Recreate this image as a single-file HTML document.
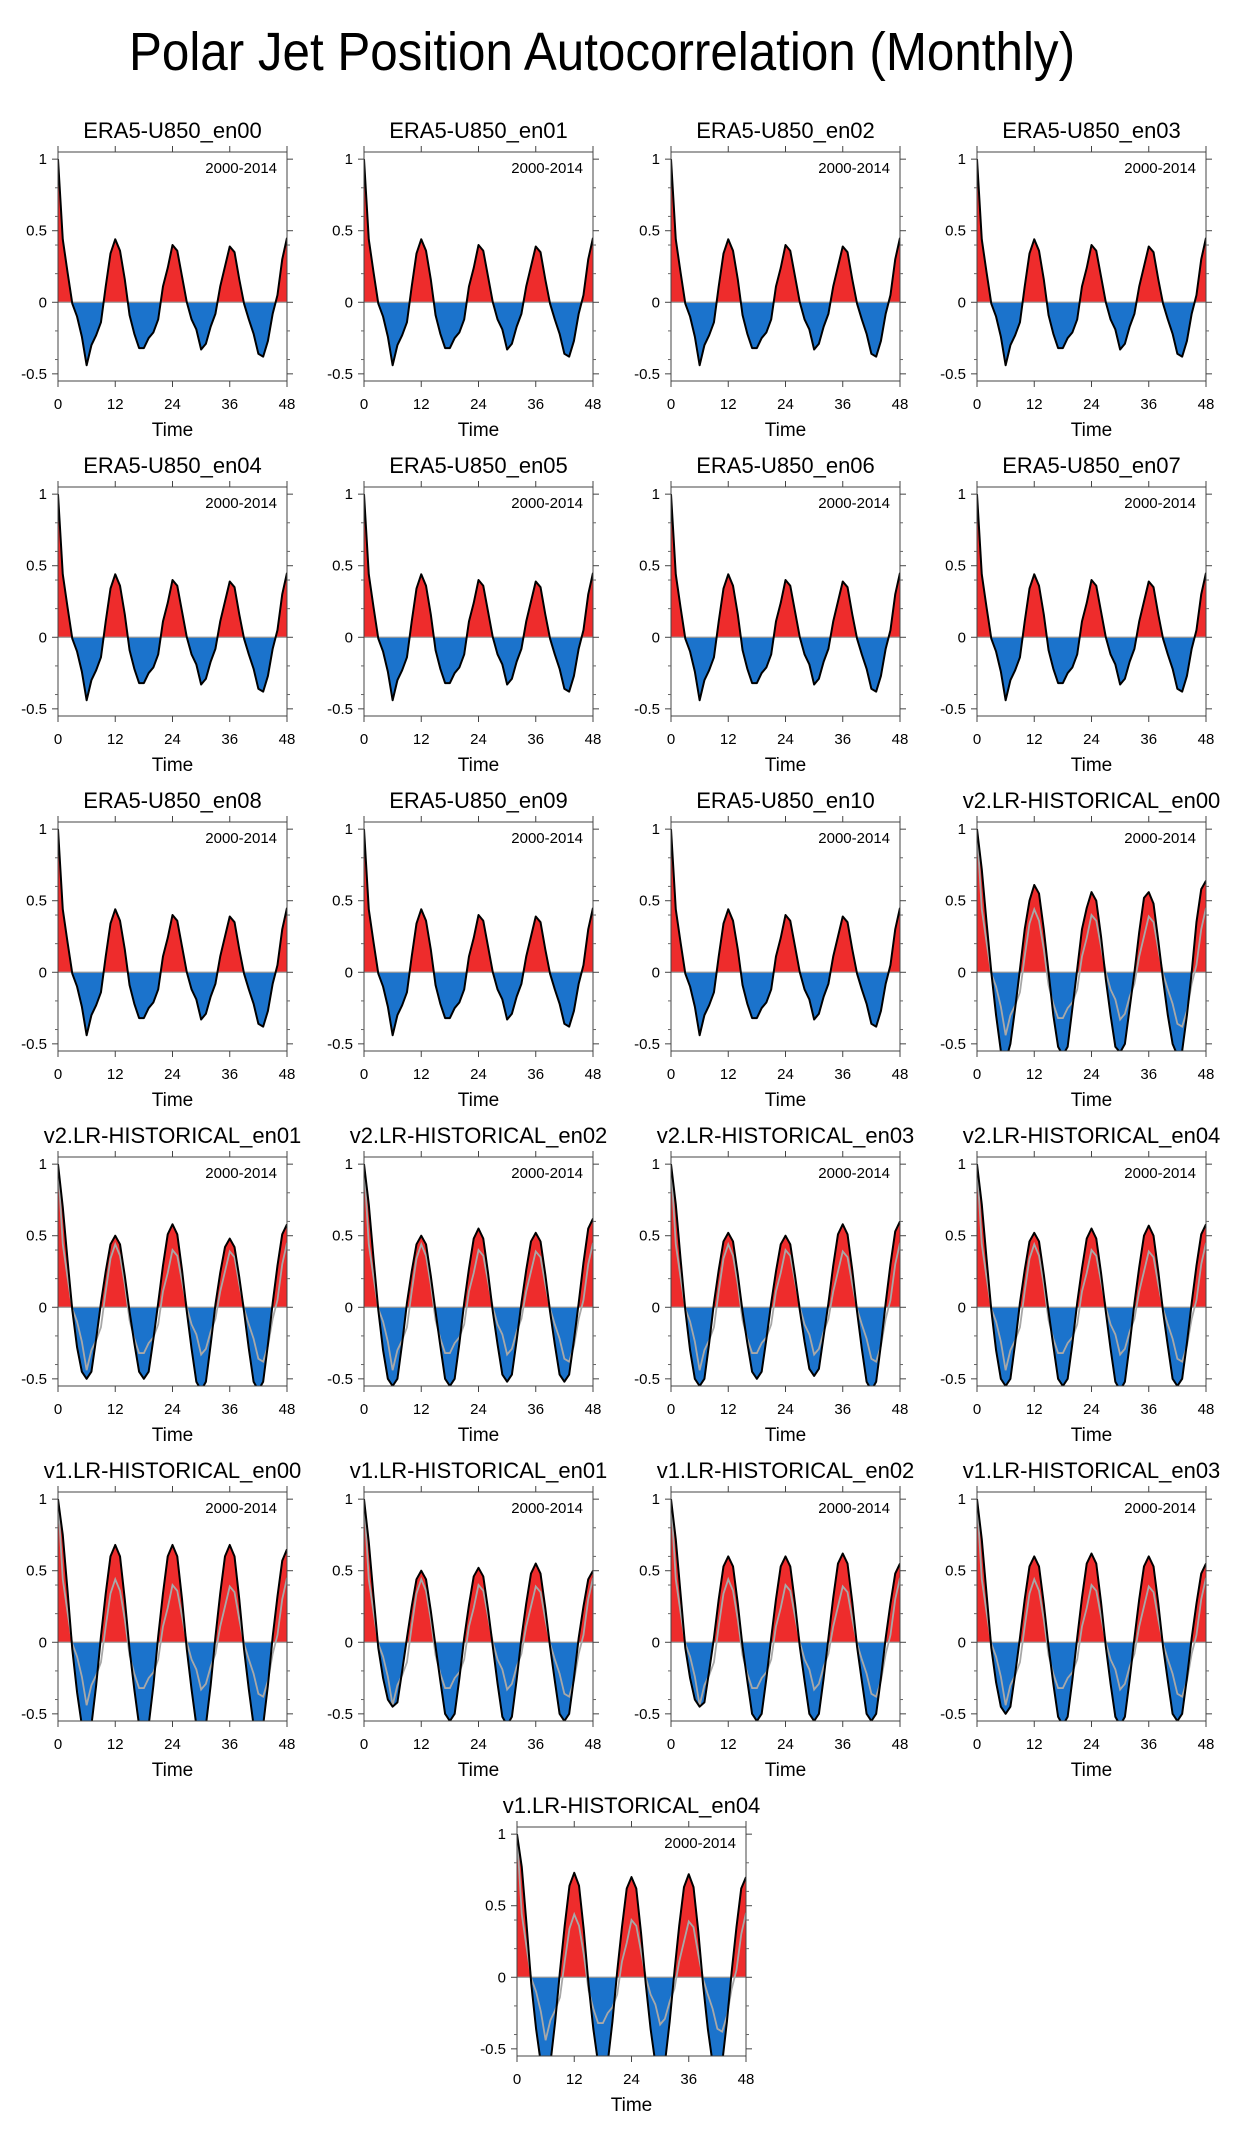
<!DOCTYPE html>
<html><head><meta charset="utf-8">
<style>
html,body{margin:0;padding:0;background:#fff;}
svg{display:block;font-family:"Liberation Sans",Arial,sans-serif;}
</style></head>
<body>
<svg id="fig" width="1235" height="2144" viewBox="0 0 1235 2144" xmlns="http://www.w3.org/2000/svg">
<text x="129" y="70" font-size="54" textLength="946" lengthAdjust="spacingAndGlyphs" fill="#000">Polar Jet Position Autocorrelation (Monthly)</text>
</svg>
<script>
const months = [0,1,2,3,4,5,6,7,8,9,10,11,12,13,14,15,16,17,18,19,20,21,22,23,24,25,26,27,28,29,30,31,32,33,34,35,36,37,38,39,40,41,42,43,44,45,46,47,48];
const xTicks = [0,12,24,36,48];
const yTicks = [-0.5,0,0.5,1];
const yTickLabels = ["-0.5","0","0.5","1"];
const yMinor = [-0.4,-0.2,0.2,0.4,0.6,0.8];
const periodLabel = "2000-2014";
const era = [1,.44,.21,-.01,-.1,-.24,-.44,-.3,-.23,-.14,.11,.34,.44,.36,.16,-.09,-.22,-.32,-.32,-.25,-.21,-.12,.11,.24,.40,.36,.18,0,-.12,-.19,-.33,-.29,-.17,-.08,.11,.25,.39,.35,.16,-.01,-.12,-.22,-.36,-.38,-.27,-.08,.05,.30,.45];
const v2_00 = [1,.72,.35,0,-.3,-.55,-.62,-.5,-.25,.02,.3,.5,.61,.55,.3,0,-.3,-.52,-.58,-.52,-.25,.02,.3,.45,.56,.5,.25,-.05,-.3,-.52,-.56,-.5,-.25,0,.28,.52,.56,.48,.22,-.05,-.3,-.5,-.58,-.55,-.3,0,.35,.58,.64];
const v2_01 = [1,.7,.33,-.02,-.28,-.45,-.5,-.45,-.22,.03,.25,.44,.5,.44,.22,-.03,-.25,-.45,-.5,-.45,-.22,.03,.29,.51,.58,.51,.26,-.03,-.29,-.52,-.58,-.52,-.26,.02,.24,.42,.48,.42,.21,-.03,-.29,-.52,-.58,-.52,-.26,.03,.29,.51,.58];
const v2_02 = [1,.72,.34,-.02,-.3,-.5,-.55,-.5,-.25,.03,.25,.44,.5,.44,.22,-.03,-.27,-.5,-.55,-.5,-.25,.03,.27,.48,.55,.48,.24,-.03,-.26,-.47,-.52,-.47,-.23,.03,.26,.46,.52,.46,.23,-.03,-.26,-.47,-.52,-.47,-.23,.03,.31,.55,.62];
const v2_03 = [1,.72,.34,-.02,-.3,-.5,-.55,-.5,-.25,.03,.26,.46,.52,.46,.23,-.03,-.25,-.45,-.5,-.45,-.22,.03,.25,.44,.5,.44,.22,-.02,-.24,-.43,-.48,-.43,-.2,.03,.29,.51,.58,.51,.26,-.03,-.29,-.52,-.58,-.52,-.26,.03,.3,.53,.6];
const v2_04 = [1,.72,.34,-.02,-.3,-.5,-.55,-.5,-.25,.03,.26,.46,.52,.46,.23,-.03,-.27,-.5,-.55,-.5,-.25,.03,.27,.48,.55,.48,.24,-.03,-.29,-.52,-.58,-.52,-.26,.03,.28,.5,.57,.5,.25,-.03,-.27,-.5,-.55,-.5,-.25,.03,.29,.51,.58];
const v1_00 = [1,.75,.36,-.05,-.35,-.58,-.65,-.58,-.3,.04,.34,.6,.68,.6,.3,-.05,-.33,-.58,-.65,-.58,-.3,.04,.34,.6,.68,.6,.3,-.05,-.33,-.58,-.65,-.58,-.3,.04,.34,.6,.68,.6,.3,-.05,-.33,-.58,-.65,-.58,-.3,.04,.32,.57,.65];
const v1_01 = [1,.7,.32,-.04,-.25,-.4,-.45,-.42,-.2,.03,.25,.44,.5,.44,.22,-.03,-.27,-.5,-.55,-.5,-.25,.03,.26,.46,.52,.46,.23,-.03,-.29,-.52,-.58,-.52,-.26,.03,.27,.48,.55,.48,.24,-.03,-.27,-.5,-.55,-.5,-.25,.03,.25,.44,.5];
const v1_02 = [1,.72,.34,-.04,-.25,-.4,-.45,-.42,-.2,.03,.3,.53,.6,.53,.27,-.03,-.27,-.5,-.55,-.5,-.25,.03,.3,.53,.6,.53,.27,-.03,-.27,-.5,-.55,-.5,-.25,.03,.31,.55,.62,.55,.28,-.03,-.27,-.5,-.55,-.5,-.25,.03,.27,.48,.55];
const v1_03 = [1,.72,.34,-.04,-.28,-.45,-.5,-.45,-.22,.03,.3,.53,.6,.53,.27,-.03,-.29,-.52,-.58,-.52,-.26,.03,.31,.55,.62,.55,.28,-.03,-.29,-.52,-.58,-.52,-.26,.03,.3,.53,.6,.53,.27,-.03,-.27,-.5,-.55,-.5,-.25,.03,.27,.48,.55];
const v1_04 = [1,.77,.37,-.05,-.36,-.6,-.68,-.6,-.31,.04,.36,.64,.73,.64,.33,-.05,-.36,-.6,-.68,-.6,-.31,.04,.35,.62,.7,.62,.31,-.05,-.36,-.6,-.68,-.6,-.31,.04,.36,.63,.72,.63,.32,-.05,-.36,-.6,-.68,-.6,-.31,.04,.35,.62,.7];
const panelTitles = ["ERA5-U850_en00","ERA5-U850_en01","ERA5-U850_en02","ERA5-U850_en03","ERA5-U850_en04","ERA5-U850_en05","ERA5-U850_en06","ERA5-U850_en07","ERA5-U850_en08","ERA5-U850_en09","ERA5-U850_en10","v2.LR-HISTORICAL_en00","v2.LR-HISTORICAL_en01","v2.LR-HISTORICAL_en02","v2.LR-HISTORICAL_en03","v2.LR-HISTORICAL_en04","v1.LR-HISTORICAL_en00","v1.LR-HISTORICAL_en01","v1.LR-HISTORICAL_en02","v1.LR-HISTORICAL_en03","v1.LR-HISTORICAL_en04"];
const panelSeries = [era,era,era,era,era,era,era,era,era,era,era,v2_00,v2_01,v2_02,v2_03,v2_04,v1_00,v1_01,v1_02,v1_03,v1_04];

const NS="http://www.w3.org/2000/svg";
const svg=document.getElementById('fig');
const colL=[58,364,671,977], rowT=[152,487,822,1157,1492,1827];
const W=229,H=229,YMIN=-0.55,YMAX=1.05;
function mk(tag,attrs,parent){const e=document.createElementNS(NS,tag);for(const k in attrs)e.setAttribute(k,attrs[k]);(parent||svg).appendChild(e);return e;}

panelTitles.forEach((title,i)=>{
  const L = i<20 ? colL[i%4] : 517;
  const T = rowT[Math.floor(i/4)];
  const xs=m=>L+m/48*W;
  const ys=v=>T+(YMAX-v)/(YMAX-YMIN)*H;
  const g=mk('g',{});
  
  
  const cid='clip'+i;
  const defs=mk('defs',{},g);
  const cpA=mk('clipPath',{id:cid+'a'},defs); mk('rect',{x:L,y:T,width:W,height:ys(0)-T},cpA);
  const cpB=mk('clipPath',{id:cid+'b'},defs); mk('rect',{x:L,y:ys(0),width:W,height:T+H-ys(0)},cpB);
  const cpP=mk('clipPath',{id:cid+'p'},defs); mk('rect',{x:L,y:T,width:W,height:H},cpP);
  const data=panelSeries[i];
  const pts=months.map((m,k)=>xs(m).toFixed(2)+','+ys(data[k]).toFixed(2)).join(' ');
  const poly=xs(0)+','+ys(0)+' '+pts+' '+xs(48)+','+ys(0);
  const pos=mk('polygon',{points:poly,fill:'#ee2c2c','clip-path':'url(#'+cid+'a)'},g);
  
  
  const neg=mk('polygon',{points:poly,fill:'#1b73cc','clip-path':'url(#'+cid+'b)'},g);
  
  
  const zl=mk('line',{x1:L,x2:L+W,y1:ys(0),y2:ys(0),stroke:'#999','stroke-width':1.2},g);
  
  
  if(i>=11){
    const ref=mk('polyline',{points:months.map((m,k)=>xs(m).toFixed(2)+','+ys(era[k]).toFixed(2)).join(' '),fill:'none',stroke:'#a8a8a8','stroke-width':1.8,'clip-path':'url(#'+cid+'p)'},g);
    
    
  }
  const ln=mk('polyline',{points:pts,fill:'none',stroke:'#000','stroke-width':2,'stroke-linejoin':'round','clip-path':'url(#'+cid+'p)'},g);
  
  
  const fr=mk('rect',{x:L,y:T,width:W,height:H,fill:'none',stroke:'#444','stroke-width':1},g);
  
  
  xTicks.forEach(t=>{
    mk('line',{x1:xs(t),x2:xs(t),y1:T+H,y2:T+H+6,stroke:'#444','stroke-width':1},g);
    mk('line',{x1:xs(t),x2:xs(t),y1:T,y2:T-6,stroke:'#444','stroke-width':1},g);
    const tl=mk('text',{x:xs(t),y:T+H+28,'font-size':15,'text-anchor':'middle',fill:'#000'},g);
    tl.textContent=t;
    
    
  });
  yTicks.forEach((t,k)=>{
    mk('line',{x1:L,x2:L-6,y1:ys(t),y2:ys(t),stroke:'#444','stroke-width':1},g);
    mk('line',{x1:L+W,x2:L+W+6,y1:ys(t),y2:ys(t),stroke:'#444','stroke-width':1},g);
    const tl=mk('text',{x:L-11,y:ys(t)+5,'font-size':15,'text-anchor':'end',fill:'#000'},g);
    tl.textContent=yTickLabels[k];
    
    
  });
  yMinor.forEach(t=>{
    mk('line',{x1:L,x2:L-3,y1:ys(t),y2:ys(t),stroke:'#666','stroke-width':1},g);
    mk('line',{x1:L+W,x2:L+W+3,y1:ys(t),y2:ys(t),stroke:'#666','stroke-width':1},g);
  });
  const tt=mk('text',{x:L+W/2,y:T-14,'font-size':22,'text-anchor':'middle',fill:'#000'},g);
  tt.textContent=title;
  
  
  const pl=mk('text',{x:L+W-10,y:T+21,'font-size':15,'text-anchor':'end',fill:'#000'},g);
  pl.textContent=periodLabel;
  
  
  const xt=mk('text',{x:L+W/2,y:T+H+55,'font-size':19,'text-anchor':'middle',fill:'#000'},g);
  xt.textContent='Time';
  
  
});
</script>
</body></html>
